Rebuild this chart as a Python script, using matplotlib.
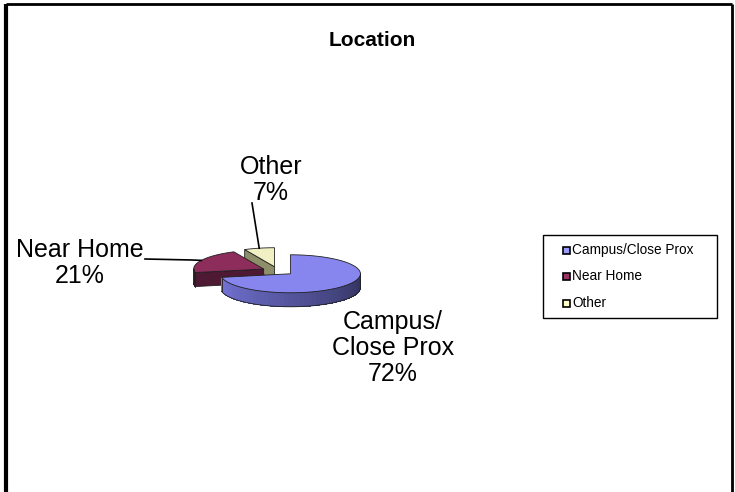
import numpy as np
import matplotlib
matplotlib.use("Agg")
import matplotlib.pyplot as plt
from matplotlib.patches import Polygon, Rectangle
from matplotlib.colors import to_rgb

plt.rcParams['font.family'] = ['Liberation Sans', 'DejaVu Sans']

# data
categories = ['Campus/Close Prox', 'Near Home', 'Other']
pie_labels = ['Campus/\nClose Prox', 'Near Home', 'Other']
values = [72, 21, 7]
top_colors = ['#8686ee', '#8c2d5c', '#f0f0c4']
wall_colors = ['#7474d8', '#4e1932', '#8e8e6a']
legend_colors = ['#9999ff', '#993366', '#ffffcc']
title = 'Location'

# 3d pie geometry (pixel space)
cx, cy = 278, 271
rx, ry = 70, 19
depth = 14
explode = 0.23

fig = plt.figure(figsize=(7.35, 4.92), dpi=100)
ax = fig.add_axes([0, 0, 1, 1])
ax.set_xlim(0, 735)
ax.set_ylim(492, 0)
ax.axis('off')


def pt(x0, y0, a):
    r = np.radians(a)
    return x0 + rx * np.cos(r), y0 - ry * np.sin(r)


# slice angles: start at 12 o'clock, clockwise
fr = np.array(values) / sum(values)
ends = 90 - 360 * np.cumsum(fr)
starts = np.concatenate([[90], ends[:-1]])

slices = []
for i in range(len(values)):
    a_hi, a_lo = starts[i], ends[i]
    mid = np.radians((a_hi + a_lo) / 2)
    ox = cx + explode * rx * np.cos(mid)
    oy = cy - explode * ry * np.sin(mid)
    slices.append((a_hi, a_lo, ox, oy))

# draw back to front
for i in [2, 1, 0]:
    a_hi, a_lo, ox, oy = slices[i]
    ec = '#202020'
    # radial wall at a_hi edge (slice lies below it in angle)
    if np.sin(np.radians(a_hi + 90)) < -1e-6:
        px, py = pt(ox, oy, a_hi)
        wall = [(ox, oy), (px, py), (px, py + depth), (ox, oy + depth)]
        ax.add_patch(Polygon(wall, closed=True, fc=wall_colors[i], ec=ec, lw=0.6))
    # outer wall: visible where the rim is in front
    ang = np.linspace(a_lo, a_hi, 400)
    front = ang[np.sin(np.radians(ang)) < 0]
    if len(front) > 1:
        n = 50
        seg = np.linspace(front.min(), front.max(), n + 1)
        c1 = np.array(to_rgb(wall_colors[i]))
        c2 = c1 * 0.42
        for k in range(n):
            t = np.linspace(seg[k], min(seg[k + 1] + 1.0, seg[-1]), 5)
            xs, ys = pt(ox, oy, t)
            poly = list(zip(xs, ys)) + list(zip(xs[::-1], ys[::-1] + depth))
            f = k / (n - 1)
            col = c1 * (1 - f) + c2 * f if i == 0 else c1
            ax.add_patch(Polygon(poly, closed=True, fc=col, ec='none',
                                 antialiased=False))
        xs, ys = pt(ox, oy, np.linspace(seg[0], seg[-1], 200))
        ax.plot(xs, ys + depth, color=ec, lw=0.6)
        for a in [seg[0], seg[-1]]:
            x1, y1 = pt(ox, oy, a)
            ax.plot([x1, x1], [y1, y1 + depth], color=ec, lw=0.6)
    # top face
    t = np.linspace(a_hi, a_lo, 200)
    xs, ys = pt(ox, oy, t)
    top = [(ox, oy)] + list(zip(xs, ys))
    ax.add_patch(Polygon(top, closed=True, fc=top_colors[i], ec=ec, lw=0.6))

# data labels
label_pos = [(393, 348), (80, 263), (271, 180)]
for i in range(len(values)):
    ax.text(label_pos[i][0], label_pos[i][1], f'{pie_labels[i]}\n{values[i]}%',
            ha='center', va='center', fontsize=18, linespacing=1.08)

# leader lines
a_hi, a_lo, ox, oy = slices[1]
mx, my = pt(ox, oy, (a_hi + a_lo) / 2)
ax.plot([145, 192, mx], [259, 260, my], color='black', lw=1.2)
a_hi, a_lo, ox, oy = slices[2]
mx, my = pt(ox, oy, (a_hi + a_lo) / 2)
ax.plot([252, mx], [203, my], color='black', lw=1.2)

# title
ax.text(372.5, 40, title, ha='center', va='center', fontsize=15, fontweight='bold')

# legend
ax.add_patch(Rectangle((543, 235), 174, 83, fc='white', ec='black', lw=1.0))
for i, name in enumerate(categories):
    y = 250 + i * 26.5
    ax.add_patch(Rectangle((563, y - 3.5), 7, 7, fc=legend_colors[i], ec='black', lw=1.2))
    ax.text(572, y, name, ha='left', va='center', fontsize=9.8)

# chart border
ax.plot([6, 6], [492, 4], color='black', lw=3.0, solid_capstyle='butt')
ax.plot([6, 732], [4, 4], color='black', lw=2.0, solid_capstyle='butt')
ax.plot([732, 732], [4, 492], color='black', lw=2.0, solid_capstyle='butt')

fig.savefig('out.png', dpi=100)
